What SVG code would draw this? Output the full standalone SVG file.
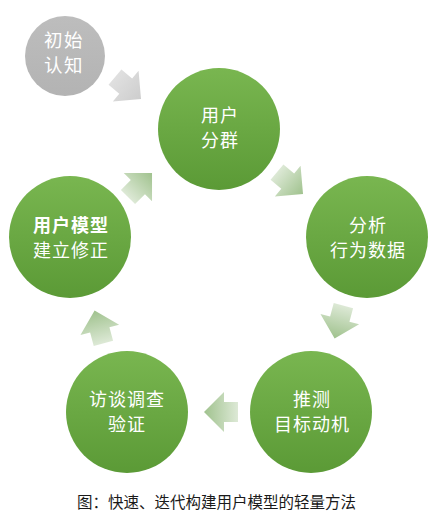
<svg xmlns="http://www.w3.org/2000/svg" width="441" height="519" viewBox="0 0 441 519">
<defs>
<linearGradient id="gGreen" x1="0" y1="0" x2="0" y2="1">
<stop offset="0" stop-color="#79b650"/>
<stop offset="1" stop-color="#5b9a36"/>
</linearGradient>
<linearGradient id="gGray" x1="0" y1="0" x2="0" y2="1">
<stop offset="0" stop-color="#bdbdbd"/>
<stop offset="1" stop-color="#b3b3b3"/>
</linearGradient>
<linearGradient id="gArrow" x1="0" y1="0" x2="1" y2="0">
<stop offset="0" stop-color="#dde9d6"/>
<stop offset="1" stop-color="#a0c28e"/>
</linearGradient>
<linearGradient id="gArrowGray" x1="0" y1="0" x2="1" y2="0">
<stop offset="0" stop-color="#e0e0e0"/>
<stop offset="1" stop-color="#cdcdcd"/>
</linearGradient>
<path id="arr" d="M-17,-10 H-3 V-20 L17,0 L-3,20 V10 H-17 Z"/>
</defs>
<style>
.node circle{fill:url(#gGreen);}
.node text{fill:#ffffff;font-family:"Noto Sans CJK SC","Noto Sans CJK JP",sans-serif;font-size:18px;text-anchor:middle;letter-spacing:1px;}
.start circle{fill:url(#gGray);}
.start text{fill:#ffffff;font-family:"Noto Sans CJK SC",sans-serif;font-size:18.5px;text-anchor:middle;letter-spacing:1.5px;}
.bold{font-weight:bold;}
.arrow{fill:url(#gArrow);}
.arrowg{fill:url(#gArrowGray);}
.caption{fill:#1a1a1a;font-family:"Noto Sans CJK SC",sans-serif;font-size:15.5px;}
</style>
<rect width="441" height="519" fill="#ffffff"/>

<g id="connectors">
<use href="#arr" class="arrowg" transform="translate(128,88) rotate(40)"/>
<use href="#arr" class="arrow" transform="translate(290,183) rotate(40)"/>
<use href="#arr" class="arrow" transform="translate(339,322) rotate(105)"/>
<use href="#arr" class="arrow" transform="translate(221,412) rotate(180)"/>
<use href="#arr" class="arrow" transform="translate(99,327) rotate(-105)"/>
<use href="#arr" class="arrow" transform="translate(140,185) rotate(-45)"/>
</g>

<g id="node-start" class="start">
<circle cx="65" cy="56" r="40"/>
<text><tspan x="64" y="47">初始</tspan><tspan x="64" y="72">认知</tspan></text>
</g>

<g id="node-segment" class="node">
<circle cx="219" cy="129" r="61"/>
<text><tspan x="220" y="122">用户</tspan><tspan x="220" y="147">分群</tspan></text>
</g>

<g id="node-analyze" class="node">
<circle cx="367" cy="237" r="61"/>
<text><tspan x="368" y="232">分析</tspan><tspan x="368" y="257">行为数据</tspan></text>
</g>

<g id="node-infer" class="node">
<circle cx="311" cy="412" r="61"/>
<text><tspan x="312" y="406">推测</tspan><tspan x="312" y="431">目标动机</tspan></text>
</g>

<g id="node-verify" class="node">
<circle cx="127" cy="412" r="61"/>
<text><tspan x="127" y="406">访谈调查</tspan><tspan x="127" y="431">验证</tspan></text>
</g>

<g id="node-model" class="node">
<circle cx="70" cy="237" r="61"/>
<text><tspan x="71" y="232" class="bold">用户模型</tspan><tspan x="71" y="257">建立修正</tspan></text>
</g>

<text class="caption" x="77" y="508">图：快速、迭代构建用户模型的轻量方法</text>
</svg>
